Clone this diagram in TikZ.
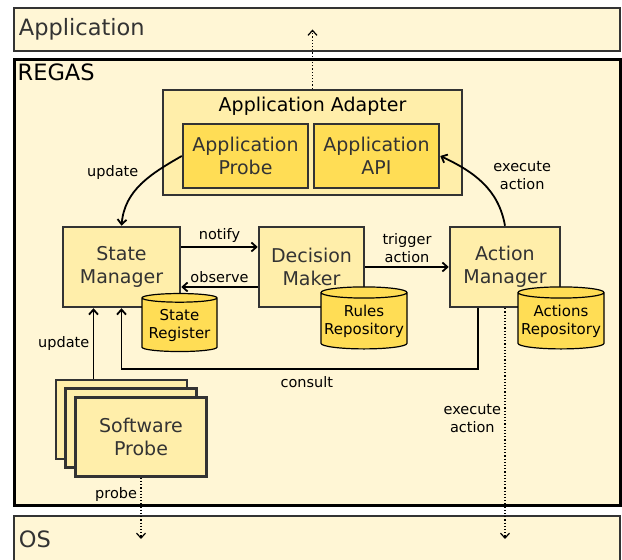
\documentclass[tikz,border=0pt]{standalone}
\usepackage{fontspec}
\setmainfont{DejaVu Sans}
\usetikzlibrary{shapes.geometric,arrows.meta}

\definecolor{bgcream}{HTML}{FFF6D5}
\definecolor{midyel}{HTML}{FFEEAA}
\definecolor{goldyel}{HTML}{FFDD55}
\definecolor{edgegray}{HTML}{333333}

\tikzset{
	layer/.style={draw=edgegray, line width=2pt, fill=bgcream, text=edgegray, inner sep=5pt, font=\fontsize{22.5}{26}\selectfont},
	comp/.style={draw=edgegray, line width=2.5pt, fill=midyel, text=edgegray, align=center, font=\fontsize{19}{22.5}\selectfont},
	sub/.style={comp, fill=goldyel},
	repo/.style={cylinder, shape border rotate=90, aspect=0.14, draw=black, line width=1.2pt, fill=goldyel, align=center, inner sep=0pt, font=\fontsize{15}{18}\selectfont},
	lbl/.style={font=\fontsize{14.5}{18}\selectfont, align=center},
	flow/.style={->, line width=1.8pt},
	ext/.style={->, dotted, line width=1.2pt},
}

\begin{document}
\begin{tikzpicture}[x=1pt,y=1pt,>={Straight Barb[length=5pt,width=9pt]}]
	\useasboundingbox (0,0) rectangle (622,560);

	% layers
	\node[layer, minimum width=606pt, minimum height=43pt, text width=596pt, align=left] (appl) at (317,530.5) {Application};
	\node[layer, draw=black, line width=3pt, minimum width=606pt, minimum height=446pt,
		label={[anchor=north west, inner sep=5pt, text=black, font=\fontsize{22.5}{26}\selectfont]north west:REGAS}] (regas) at (317,277) {};
	\node[layer, minimum width=606pt, minimum height=46pt, text width=596pt, align=left] (os) at (317,21) {OS};

	% adapter
	\node[comp, minimum width=299pt, minimum height=105pt,
		label={[anchor=north, inner sep=8pt, text=black, font=\fontsize{19}{22.5}\selectfont]north:Application Adapter}] (adapter) at (312.5,417.5) {};
	\node[sub, minimum width=125pt, minimum height=64pt] (aprobe) at (245.5,404) {Application\\Probe};
	\node[sub, minimum width=125pt, minimum height=64pt] (aapi) at (376.5,404) {Application\\API};

	% managers
	\node[comp, minimum width=117pt, minimum height=80pt] (stmgr) at (121.5,293) {State\\Manager};
	\node[comp, minimum width=105pt, minimum height=80pt] (decmk) at (311.5,293) {Decision\\Maker};
	\node[comp, minimum width=110pt, minimum height=80pt] (actmgr) at (505,293) {Action\\Manager};

	% repositories
	\node[repo, minimum width=75pt, minimum height=58pt] (streg) at (179.5,235) {State\\Register};
	\node[repo, minimum width=86pt, minimum height=62pt] (rulrep) at (364,239) {Rules\\Repository};
	\node[repo, minimum width=86pt, minimum height=62pt] (actrep) at (561,239) {Actions\\Repository};

	% software probes
	\node[comp, minimum width=131pt, minimum height=79pt] (swp1) at (121.5,140.5) {};
	\node[comp, minimum width=131pt, minimum height=79pt] (swp2) at (131,132) {};
	\node[comp, minimum width=131pt, minimum height=79pt] (swp3) at (141,123) {Software\\Probe};

	% connectors
	\draw[flow] ([yshift=20pt]stmgr.east) -- node[lbl, above] {notify} ([yshift=20pt]decmk.west);
	\draw[flow] ([yshift=-20pt]decmk.west) -- node[lbl, above] {observe} ([yshift=-20pt]stmgr.east);
	\draw[flow] (decmk.east) -- node[lbl, above] {trigger\\action} (actmgr.west);
	\draw[flow] (aprobe.west) to[out=210, in=85] node[lbl, pos=0.3, left=13pt] {update} (stmgr.north);
	\draw[flow] (actmgr.north) to[out=100, in=-25] node[lbl, pos=0.62, right=15pt] {execute\\action} (aapi.east);
	\draw[flow] ([xshift=-28pt]swp1.north) -- node[lbl, left] {update} ([xshift=-28pt]stmgr.south);
	\draw[flow] ([xshift=-27pt]actmgr.south) -- ++(0,-61) -| node[lbl, pos=0.24, below=3pt] {consult} (stmgr.south);

	\draw[ext] (adapter.north) -- (adapter.north |- appl.center);
	\draw[ext] (swp3.south) -- node[lbl, pos=0.27, left] {probe} (swp3.south |- os.center);
	\draw[ext] (actmgr.south) -- node[lbl, pos=0.48, left] {execute\\action} (actmgr.south |- os.center);
\end{tikzpicture}
\end{document}
